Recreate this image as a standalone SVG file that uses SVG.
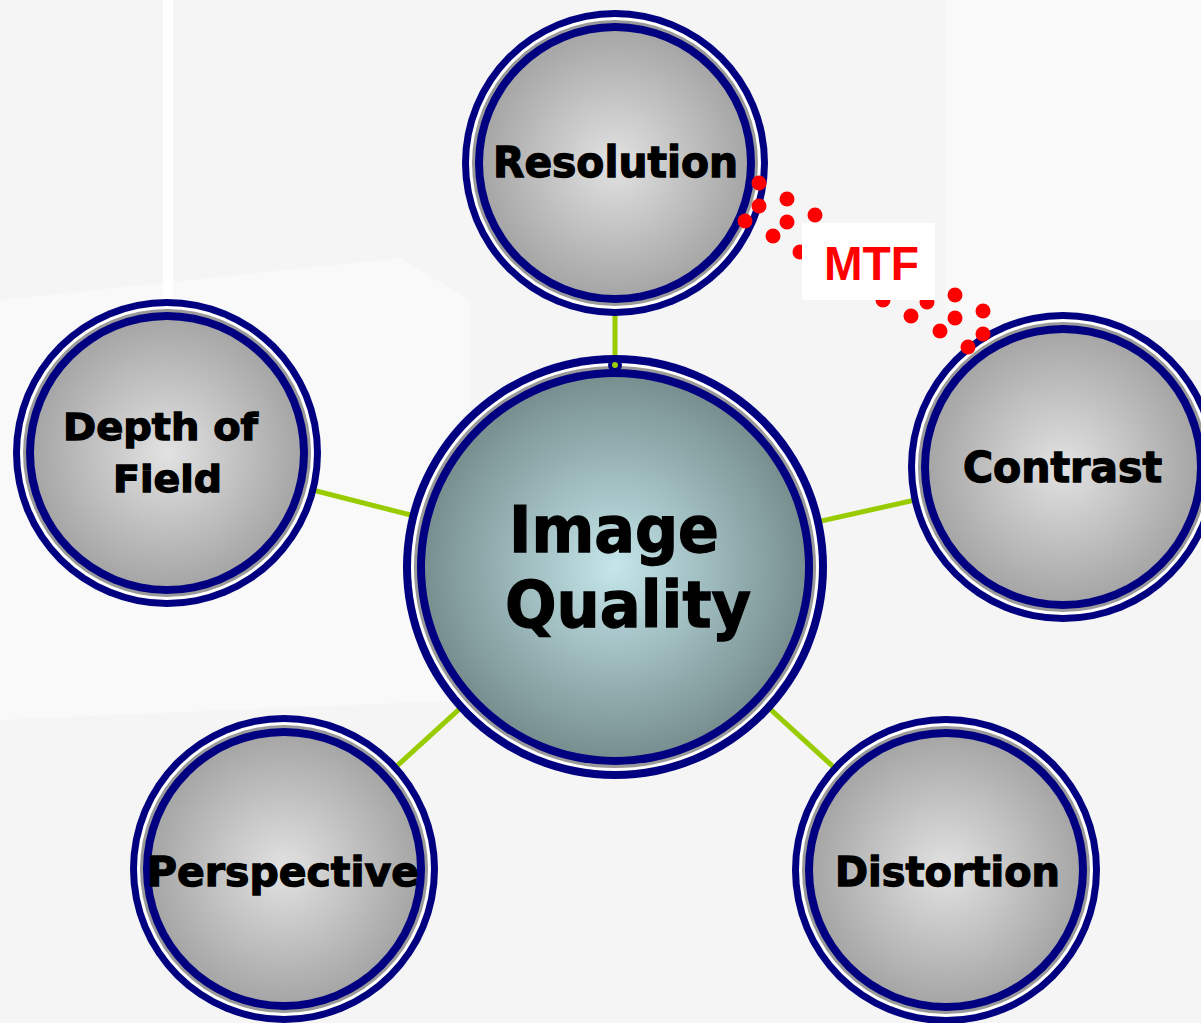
<svg xmlns="http://www.w3.org/2000/svg" width="1201" height="1023" viewBox="0 0 1201 1023">
<defs>
<radialGradient id="gGray" cx="50%" cy="50%" r="50%">
<stop offset="0" stop-color="#e2e2e2"/>
<stop offset="1" stop-color="#a6a6a6"/>
</radialGradient>
<radialGradient id="gTeal" cx="50%" cy="50%" r="50%">
<stop offset="0" stop-color="#c4e6ea"/>
<stop offset="1" stop-color="#788f90"/>
</radialGradient>
<style>
.navy{fill:#000080}
.gap{fill:#ffffff}
.grey{fill:#9a9a9a}
.lbl{font-family:"DejaVu Sans","Liberation Sans",sans-serif;font-weight:bold;fill:#000;stroke:#000;stroke-width:1.3}
.conn{stroke:#99cc00;stroke-width:5;fill:none}
.dot{fill:#ff0000}
</style>
</defs>
<g id="background">
<rect x="0" y="0" width="1201" height="1023" fill="#f5f5f5"/>
<rect x="163" y="0" width="10" height="300" fill="#ffffff"/>
<polygon points="0,300 400,258 470,300 470,700 0,720" fill="#ffffff" opacity="0.4"/>
<rect x="945" y="0" width="256" height="320" fill="#ffffff" opacity="0.4"/>
</g>
<g id="connectors">
<line class="conn" x1="615" y1="163" x2="615" y2="567"/>
<line class="conn" x1="167" y1="453" x2="615" y2="567"/>
<line class="conn" x1="1063" y1="467" x2="615" y2="567"/>
<line class="conn" x1="284" y1="869" x2="615" y2="567"/>
<line class="conn" x1="946" y1="870" x2="615" y2="567"/>
</g>
<g id="node-resolution">
<circle class="navy" cx="615" cy="163" r="153"/>
<circle class="gap" cx="615" cy="163" r="146"/>
<circle class="grey" cx="615" cy="163" r="143"/>
<circle class="navy" cx="615" cy="163" r="140"/>
<circle fill="url(#gGray)" cx="615" cy="163" r="132"/>
<text class="lbl" x="493" y="177" font-size="43" textLength="245" lengthAdjust="spacingAndGlyphs">Resolution</text>
</g>
<g id="node-depth">
<circle class="navy" cx="167" cy="453" r="154"/>
<circle class="gap" cx="167" cy="453" r="147"/>
<circle class="grey" cx="167" cy="453" r="144"/>
<circle class="navy" cx="167" cy="453" r="141"/>
<circle fill="url(#gGray)" cx="167" cy="453" r="133"/>
<text class="lbl" x="63" y="440" font-size="38" textLength="195" lengthAdjust="spacingAndGlyphs">Depth of</text>
<text class="lbl" x="113" y="492" font-size="38" textLength="109" lengthAdjust="spacingAndGlyphs">Field</text>
</g>
<g id="node-contrast">
<circle class="navy" cx="1063" cy="467" r="155"/>
<circle class="gap" cx="1063" cy="467" r="148"/>
<circle class="grey" cx="1063" cy="467" r="145"/>
<circle class="navy" cx="1063" cy="467" r="142"/>
<circle fill="url(#gGray)" cx="1063" cy="467" r="134"/>
<text class="lbl" x="963" y="482" font-size="42" textLength="199" lengthAdjust="spacingAndGlyphs">Contrast</text>
</g>
<g id="node-perspective">
<circle class="navy" cx="284" cy="869" r="154"/>
<circle class="gap" cx="284" cy="869" r="147"/>
<circle class="grey" cx="284" cy="869" r="144"/>
<circle class="navy" cx="284" cy="869" r="141"/>
<circle fill="url(#gGray)" cx="284" cy="869" r="133"/>
<text class="lbl" x="147" y="886" font-size="41" textLength="272" lengthAdjust="spacingAndGlyphs">Perspective</text>
</g>
<g id="node-distortion">
<circle class="navy" cx="946" cy="870" r="154"/>
<circle class="gap" cx="946" cy="870" r="147"/>
<circle class="grey" cx="946" cy="870" r="144"/>
<circle class="navy" cx="946" cy="870" r="141"/>
<circle fill="url(#gGray)" cx="946" cy="870" r="133"/>
<text class="lbl" x="835" y="886" font-size="41" textLength="225" lengthAdjust="spacingAndGlyphs">Distortion</text>
</g>
<g id="node-image-quality">
<circle class="navy" cx="615" cy="567" r="212"/>
<circle class="gap" cx="615" cy="567" r="204"/>
<circle class="grey" cx="615" cy="567" r="201"/>
<circle class="navy" cx="615" cy="567" r="198"/>
<circle fill="url(#gTeal)" cx="615" cy="567" r="190"/>
<circle class="navy" cx="615" cy="365" r="7"/>
<circle fill="#99cc00" cx="615" cy="365" r="3"/>
<text class="lbl" x="509" y="552" font-size="64" textLength="210" lengthAdjust="spacingAndGlyphs">Image</text>
<text class="lbl" x="505" y="627" font-size="64" textLength="246" lengthAdjust="spacingAndGlyphs">Quality</text>
</g>
<g id="mtf-link">
<circle class="dot" cx="759" cy="183" r="7.5"/><circle class="dot" cx="787" cy="199" r="7.5"/><circle class="dot" cx="815" cy="215" r="7.5"/><circle class="dot" cx="843" cy="231" r="7.5"/><circle class="dot" cx="871" cy="247" r="7.5"/><circle class="dot" cx="899" cy="263" r="7.5"/><circle class="dot" cx="927" cy="279" r="7.5"/><circle class="dot" cx="955" cy="295" r="7.5"/><circle class="dot" cx="983" cy="311" r="7.5"/>
<circle class="dot" cx="759" cy="206" r="7.5"/><circle class="dot" cx="787" cy="222" r="7.5"/><circle class="dot" cx="815" cy="238" r="7.5"/><circle class="dot" cx="843" cy="254" r="7.5"/><circle class="dot" cx="871" cy="270" r="7.5"/><circle class="dot" cx="899" cy="286" r="7.5"/><circle class="dot" cx="927" cy="302" r="7.5"/><circle class="dot" cx="955" cy="318" r="7.5"/><circle class="dot" cx="983" cy="334" r="7.5"/>
<circle class="dot" cx="745" cy="221" r="7.5"/><circle class="dot" cx="773" cy="236" r="7.5"/><circle class="dot" cx="800" cy="252" r="7.5"/><circle class="dot" cx="827" cy="268" r="7.5"/><circle class="dot" cx="855" cy="284" r="7.5"/><circle class="dot" cx="883" cy="300" r="7.5"/><circle class="dot" cx="911" cy="316" r="7.5"/><circle class="dot" cx="940" cy="331" r="7.5"/><circle class="dot" cx="968" cy="347" r="7.5"/>
<rect x="802" y="223" width="133" height="77" fill="#ffffff"/>
<text x="824" y="280" font-family="Liberation Sans, Arial, sans-serif" font-weight="bold" font-size="48" fill="#ff0000" textLength="95" lengthAdjust="spacingAndGlyphs">MTF</text>
</g>
</svg>
